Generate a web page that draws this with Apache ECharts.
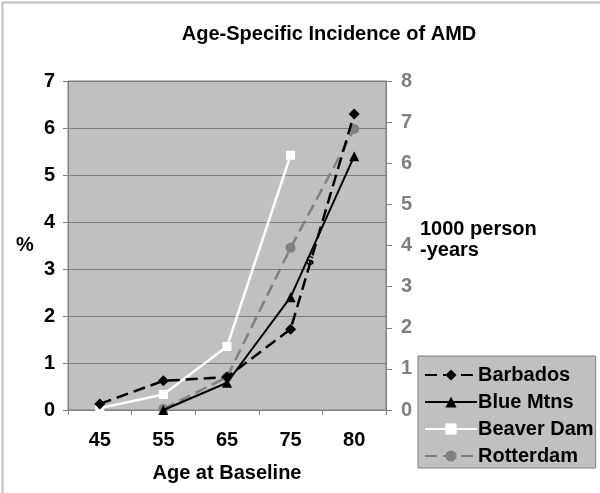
<!DOCTYPE html>
<html>
<head>
<meta charset="utf-8">
<script src="https://cdn.jsdelivr.net/npm/echarts@6/dist/echarts.min.js"></script>
<style>html,body{margin:0;padding:0;background:#fff;}#c{width:600px;height:493px;}</style>
</head>
<body>
<div id="c"></div>
<script>
var categories = ['45', '55', '65', '75', '80'];
var barbados = [0.13, 0.62, 0.7, 1.72, 6.3];
var blueMtns = [null, 0, 0.58, 2.4, 5.4];
var beaverDam = [0.04, 0.33, 1.35, 5.42, null];
var rotterdam = [null, 0.02, 0.7, 3.45, 5.98];
var leftTicks = [0, 1, 2, 3, 4, 5, 6, 7];
var rightTicks = [0, 1, 2, 3, 4, 5, 6, 7, 8];

var FONT = 'Liberation Sans, Arial, sans-serif';
var chart = echarts.init(document.getElementById('c'), null, {renderer: 'canvas'});
chart.setOption({
  backgroundColor: '#ffffff',
  animation: false,
  title: {
    text: 'Age-Specific Incidence of AMD',
    left: 324, top: 19, textAlign: 'center',
    textStyle: {fontFamily: FONT, fontSize: 20, fontWeight: 'bold', color: '#000'}
  },
  grid: {
    left: 68, right: 214, top: 81, bottom: 83,
    show: true, backgroundColor: '#c0c0c0', borderColor: '#808080', borderWidth: 1
  },
  legend: {
    orient: 'vertical', left: 418, top: 356,
    width: 172, height: 111,
    padding: [9, 2, 2, 6],
    backgroundColor: '#c0c0c0', borderColor: '#808080', borderWidth: 1,
    itemWidth: 52, itemHeight: 14, itemGap: 7,
    textStyle: {fontFamily: FONT, fontSize: 20, fontWeight: 'bold', color: '#000', padding: [0, 0, 0, -4]},
    data: ['Barbados', 'Blue Mtns', 'Beaver Dam', 'Rotterdam']
  },
  xAxis: {
    type: 'category', data: categories, boundaryGap: true,
    axisLine: {lineStyle: {color: '#808080'}},
    axisTick: {show: true, length: 5, lineStyle: {color: '#808080'}},
    axisLabel: {fontFamily: FONT, fontSize: 20, fontWeight: 'bold', color: '#000', margin: 20},
    name: 'Age at Baseline', nameLocation: 'middle', nameGap: 53,
    nameTextStyle: {fontFamily: FONT, fontSize: 20, fontWeight: 'bold', color: '#000'}
  },
  yAxis: [{
    type: 'value', min: leftTicks[0], max: leftTicks[leftTicks.length - 1], interval: 1,
    axisLine: {show: true, lineStyle: {color: '#808080'}},
    axisTick: {show: true, length: 5, lineStyle: {color: '#808080'}},
    splitLine: {show: true, lineStyle: {color: '#808080', width: 1}},
    axisLabel: {fontFamily: FONT, fontSize: 20, fontWeight: 'bold', color: '#000', margin: 13}
  }, {
    type: 'value', min: rightTicks[0], max: rightTicks[rightTicks.length - 1], interval: 1,
    position: 'right',
    axisLine: {show: true, lineStyle: {color: '#808080'}},
    axisTick: {show: true, length: 6, lineStyle: {color: '#808080'}},
    splitLine: {show: false},
    axisLabel: {fontFamily: FONT, fontSize: 20, fontWeight: 'bold', color: '#808080', margin: 15}
  }],
  series: [{
    name: 'Barbados', type: 'line', data: barbados, connectNulls: false,
    symbol: 'diamond', symbolSize: 11,
    itemStyle: {color: '#000'},
    lineStyle: {color: '#000', width: 2.5, type: [12, 6]}, z: 5
  }, {
    name: 'Blue Mtns', type: 'line', data: blueMtns,
    symbol: 'triangle', symbolSize: 10,
    itemStyle: {color: '#000'},
    lineStyle: {color: '#000', width: 2}, z: 4
  }, {
    name: 'Beaver Dam', type: 'line', data: beaverDam,
    symbol: 'rect', symbolSize: 9,
    itemStyle: {color: '#fff'},
    lineStyle: {color: '#fff', width: 2.5}, z: 3
  }, {
    name: 'Rotterdam', type: 'line', data: rotterdam,
    symbol: 'circle', symbolSize: 10,
    itemStyle: {color: '#808080'},
    lineStyle: {color: '#808080', width: 2.5, type: [12, 6]}, z: 2
  }],
  graphic: [
    {type: 'rect', left: 0, top: 0, shape: {x: 0, y: 0, width: 600, height: 493},
     style: {fill: 'none', stroke: '#c0c0c0', lineWidth: 2}, silent: true},
    {type: 'text', left: 16, top: 235, style: {text: '%', font: 'bold 20px ' + FONT, fill: '#000'}},
    {type: 'text', left: 420, top: 219, style: {text: '1000 person\n-years', font: 'bold 20px ' + FONT, fill: '#000', lineHeight: 21}},
    {type: 'text', left: 306, top: 256, style: {text: 'S', font: 'bold 12px ' + FONT, fill: '#000'}}
  ]
});
</script>
</body>
</html>
